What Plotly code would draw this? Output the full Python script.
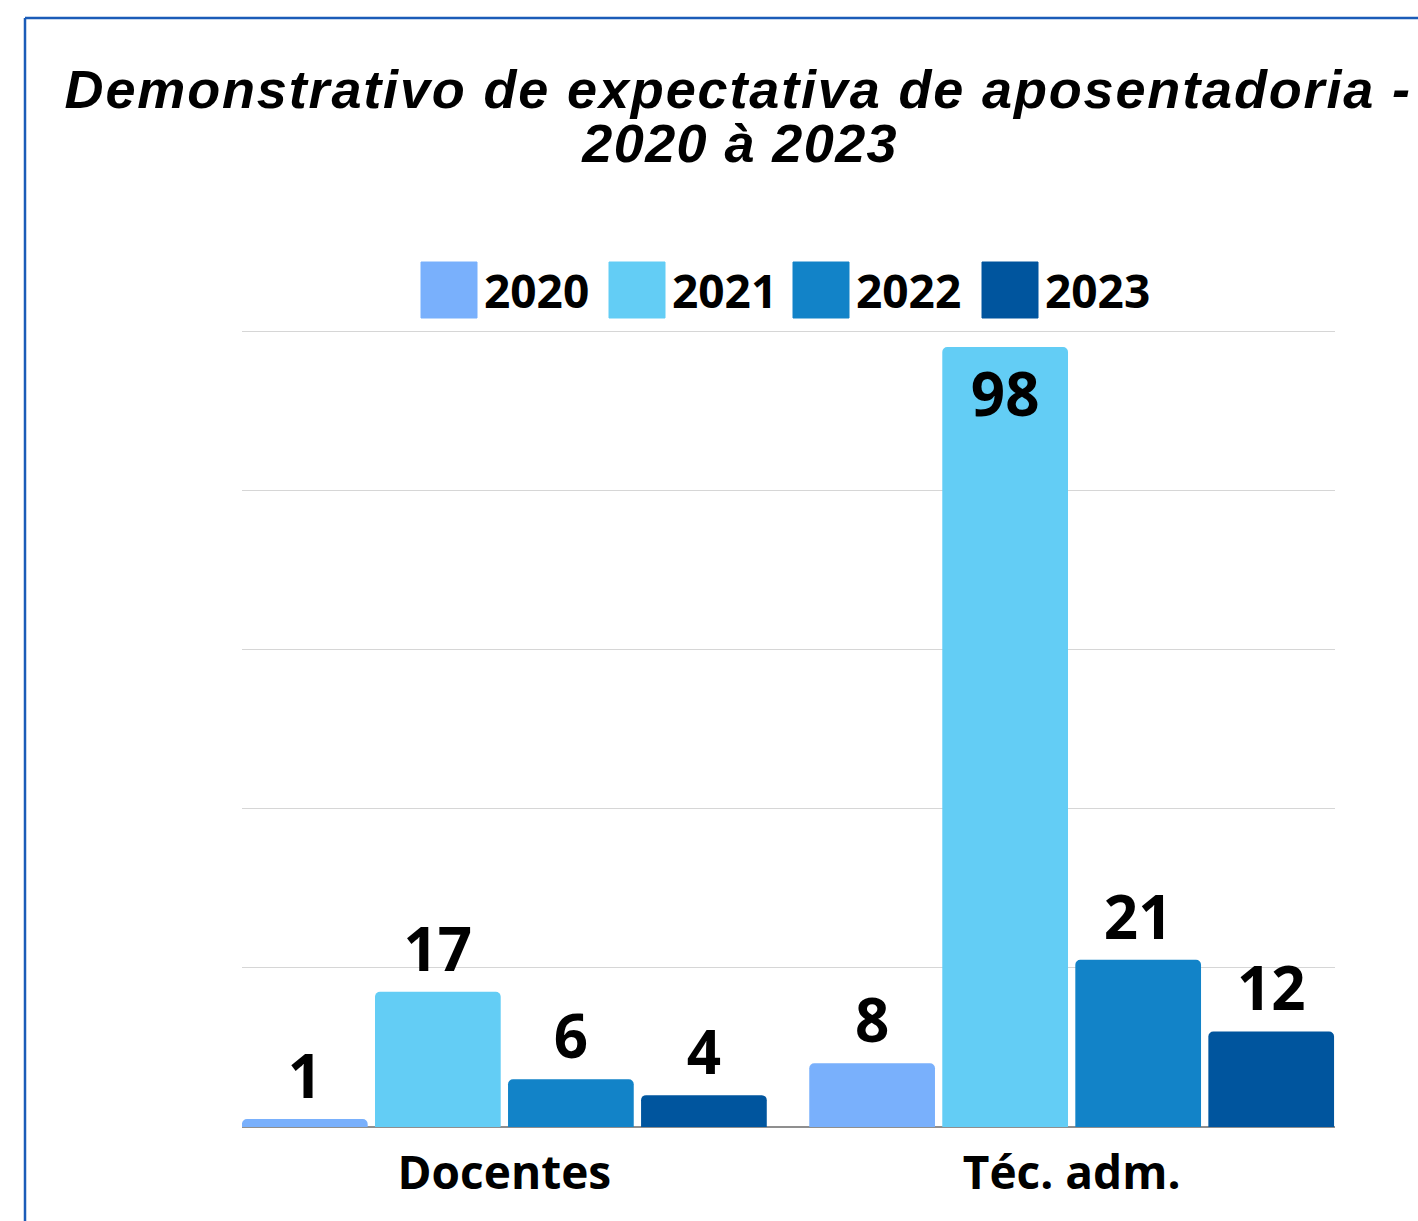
import json
import plotly.graph_objects as go

# Data
categories = ["Docentes", "Téc. adm."]
series_names = ["2020", "2021", "2022", "2023"]
values_2020 = [1, 8]
values_2021 = [17, 98]
values_2022 = [6, 21]
values_2023 = [4, 12]
series_values = [values_2020, values_2021, values_2022, values_2023]
colors = ["#79b0fc", "#63cdf5", "#1283c8", "#00559e"]

title_line1 = "Demonstrativo de expectativa de aposentadoria -"
title_line2 = "2020 à 2023"

# Canvas geometry (pixels); the plot area starts a few pixels above the
# top gridline so that the 100 line is kept inside it
W, H = 1418, 1221
ML, MR, MT, MB = 242, 83, 328, 94
PW = W - ML - MR
PH = H - MT - MB
Y_MAX = 100 * PH / 796


def px(x):
    return (x - ML) / PW


def py(y):
    return (H - MB - y) / PH


fig = go.Figure()
for name, vals, col in zip(series_names, series_values, colors):
    positions = ["inside" if v > 90 else "outside" for v in vals]
    fig.add_trace(go.Bar(
        name=name,
        x=categories,
        y=vals,
        marker=dict(color=col, cornerradius=5, line=dict(width=0)),
        text=[str(v) for v in vals],
        textposition=positions,
        insidetextanchor="end",
        textfont=dict(family="Open Sans", size=60, color="black", weight="bold"),
        constraintext="none",
        cliponaxis=False,
        showlegend=False,
    ))

# Frame around the chart
frame_color = "#1b5cb8"
shapes = [
    dict(type="line", xref="paper", yref="paper",
         x0=px(25), x1=px(25), y0=py(18), y1=py(H + 10),
         line=dict(color=frame_color, width=2.5)),
    dict(type="line", xref="paper", yref="paper",
         x0=px(25), x1=px(W + 10), y0=py(18), y1=py(18),
         line=dict(color=frame_color, width=2.5)),
]

# Legend swatches and labels
legend_x = [421, 609, 793, 982]
sw = 56
legend_top = 262
annotations = []
for name, col, lx in zip(series_names, colors, legend_x):
    shapes.append(dict(type="rect", xref="paper", yref="paper",
                       x0=px(lx), x1=px(lx + sw), y0=py(legend_top + sw), y1=py(legend_top),
                       fillcolor=col, line=dict(color=col, width=1)))
    annotations.append(dict(xref="paper", yref="paper", x=px(lx + sw + 5), y=py(legend_top + sw / 2),
                            xanchor="left", yanchor="middle", showarrow=False, text=name,
                            font=dict(family="Open Sans", size=46, color="black", weight="bold")))

# Title lines
annotations.append(dict(xref="paper", yref="paper", x=px(737.5), y=py(89), xanchor="center",
                        yanchor="middle", showarrow=False, text=title_line1,
                        font=dict(family="Liberation Sans", size=54, color="black",
                                  weight="bold", style="italic")))
annotations.append(dict(xref="paper", yref="paper", x=px(739.5), y=py(143), xanchor="center",
                        yanchor="middle", showarrow=False, text=title_line2,
                        font=dict(family="Liberation Sans", size=54, color="black",
                                  weight="bold", style="italic")))

fig.update_layout(
    width=W, height=H,
    margin=dict(l=ML, r=MR, t=MT, b=MB, pad=0),
    paper_bgcolor="white", plot_bgcolor="white",
    barmode="group", bargap=0.062, bargroupgap=0.055,
    shapes=shapes, annotations=annotations,
    xaxis=dict(type="category", range=[-0.4625, 1.4642], showgrid=False,
               tickfont=dict(family="Open Sans", size=46, color="black", weight="bold"),
               ticks="", showline=False, fixedrange=True, ticklabelstandoff=15),
    yaxis=dict(range=[0, Y_MAX], dtick=20, showticklabels=False, showgrid=True,
               gridcolor="#d6d6d6", gridwidth=1, zeroline=True,
               zerolinecolor="#8f8f8f", zerolinewidth=1.5, fixedrange=True),
)

# Widen the letter spacing of the two title lines once the chart is drawn
post_script = """
var titleSpacing = {%s: '1.85px', %s: '1.4px'};
document.querySelectorAll('.annotation-text').forEach(function (t) {
    var s = t.getAttribute('data-unformatted');
    if (titleSpacing[s]) { t.style.letterSpacing = titleSpacing[s]; }
});
""" % (json.dumps(title_line1), json.dumps(title_line2))

fig.write_html("out.html", post_script=post_script)
